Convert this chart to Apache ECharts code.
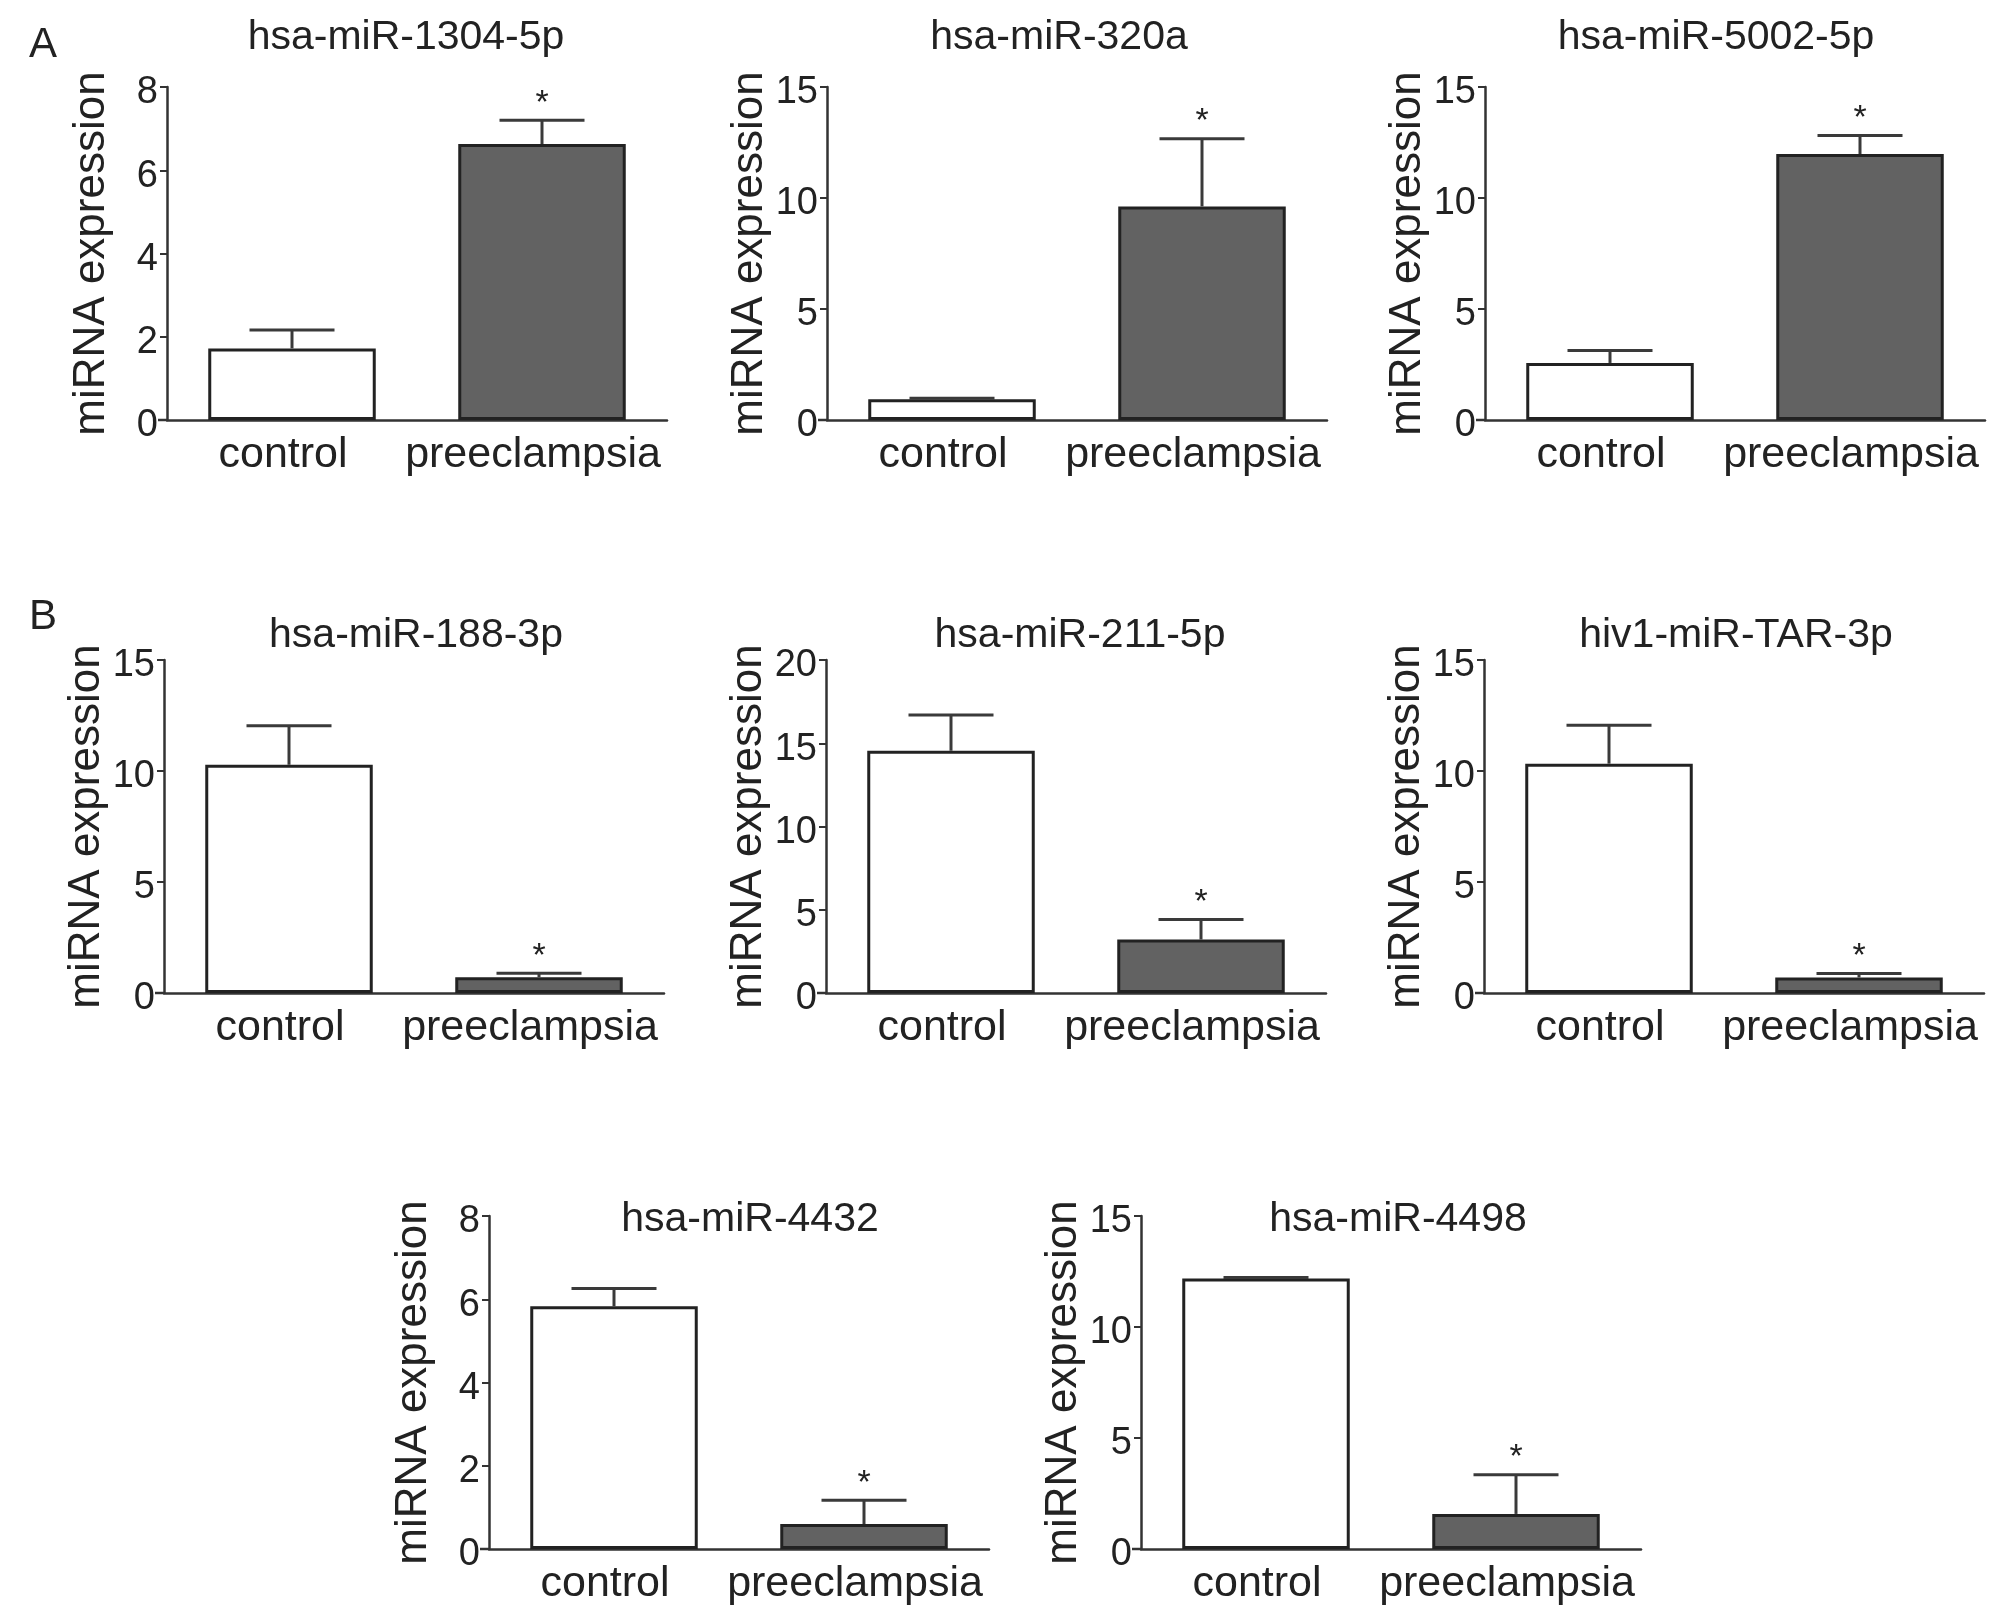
<!DOCTYPE html>
<html>
<head>
<meta charset="utf-8">
<title>miRNA expression: control vs preeclampsia</title>
<script src="https://cdn.jsdelivr.net/npm/echarts@6/dist/echarts.min.js"></script>
<style>
  html, body { margin: 0; padding: 0; background: #fff; }
  #chart { width: 2008px; height: 1621px; }
</style>
</head>
<body>
<div id="chart"></div>
<script>
// 8 small bar panels (mean + upper SEM whisker), control vs preeclampsia

const groups = ["control", "preeclampsia"];
const panelTitles = [
  "hsa-miR-1304-5p", "hsa-miR-320a", "hsa-miR-5002-5p",
  "hsa-miR-188-3p", "hsa-miR-211-5p", "hiv1-miR-TAR-3p",
  "hsa-miR-4432", "hsa-miR-4498"
];
const yMax = [8, 15, 15, 15, 20, 15, 8, 15];
const yStep = [2, 5, 5, 5, 5, 5, 2, 5];

const controlMean = [1.72, 0.93, 2.57, 10.28, 14.55, 10.33, 5.83, 12.18];
const controlErr = [0.44, 0.05, 0.56, 1.76, 2.15, 1.73, 0.43, 0.05];
const preeclampsiaMean = [6.63, 9.62, 11.98, 0.71, 3.21, 0.70, 0.60, 1.58];
const preeclampsiaErr = [0.57, 3.05, 0.83, 0.18, 1.20, 0.18, 0.57, 1.77];
// significance star above each group (control, preeclampsia)
const starred = [false, true];

const panelLetters = ["A", "B"];

// ─── layout (pixels) ──────────────────────────────────────────
const axisX = [167, 827, 1485, 164, 826, 1484, 489, 1141];
const axisTop = [87, 87, 87, 660, 660, 660, 1216, 1216];
const plotH = 333;
const plotW = 500;
const lead = 9; // x axis line starts a little left of the y axis
const titleX = [406, 1059, 1716, 416, 1080, 1736, 750, 1398];
const titleY = [38, 38, 38, 636, 636, 636, 1220, 1220];
const letterPos = [[43, 45], [43, 617]];

const FONT = "'Liberation Sans', Arial, Helvetica, sans-serif";
const INK = "#222";
const LINE = "#333";
const DARK = "#626262";

function renderErr(params, api) {
  const x = api.value(0);
  const m = api.value(1);
  const e = api.value(2);
  const star = api.value(3);
  const base = api.coord([x, m]);
  const top = api.coord([x, m + e]);
  const half = api.size([1, 0])[0] * 0.17;
  const st = { stroke: "#3a3a3a", lineWidth: 3 };
  const children = [
    { type: "line", shape: { x1: base[0], y1: base[1], x2: top[0], y2: top[1] }, style: st },
    { type: "line", shape: { x1: top[0] - half, y1: top[1], x2: top[0] + half, y2: top[1] }, style: st }
  ];
  if (star) {
    children.push({
      type: "text",
      x: top[0],
      y: top[1] - 17,
      style: { text: "*", fontSize: 34, fontFamily: FONT, fill: INK, align: "center", verticalAlign: "middle" }
    });
  }
  return { type: "group", children };
}

const titles = [];
const grids = [];
const xAxes = [];
const yAxes = [];
const series = [];
const graphics = [];

panelLetters.forEach((t, i) => {
  titles.push({
    text: t, left: letterPos[i][0], top: letterPos[i][1] - 24, textAlign: "center", padding: 0,
    textStyle: { fontSize: 42, fontWeight: "normal", color: INK, fontFamily: FONT, lineHeight: 48 }
  });
});

panelTitles.forEach((name, i) => {
  titles.push({
    text: name, left: titleX[i], top: titleY[i] - 23, textAlign: "center", padding: 0,
    textStyle: { fontSize: 41, fontWeight: "normal", color: INK, fontFamily: FONT, lineHeight: 46 }
  });

  grids.push({ left: axisX[i], top: axisTop[i], width: plotW, height: plotH });

  // short stub of the baseline to the left of the y axis
  graphics.push({
    type: "line", silent: true,
    shape: { x1: axisX[i] - lead, y1: axisTop[i] + plotH, x2: axisX[i], y2: axisTop[i] + plotH },
    style: { stroke: LINE, lineWidth: 2.5 }
  });

  xAxes.push({
    type: "category", gridIndex: i, data: groups,
    axisLine: { lineStyle: { color: LINE, width: 2.5 } },
    axisTick: { alignWithLabel: true, length: 10, lineStyle: { color: LINE, width: 2.5 } },
    axisLabel: {
      fontSize: 43, color: INK, fontFamily: FONT, margin: 14, interval: 0, hideOverlap: false,
      padding: [0, 18, 0, 0]
    },
    splitLine: { show: false }
  });

  yAxes.push({
    type: "value", gridIndex: i, min: 0, max: yMax[i], interval: yStep[i],
    name: "miRNA expression", nameLocation: "middle", nameGap: 53, nameRotate: 90,
    nameTextStyle: { fontSize: 44, color: INK, fontFamily: FONT },
    axisLine: { show: true, lineStyle: { color: LINE, width: 2.5 } },
    axisTick: { show: true, length: 7, lineStyle: { color: LINE, width: 2 } },
    axisLabel: { fontSize: 38, color: INK, fontFamily: FONT, margin: 9, verticalAlign: "top", lineHeight: 12 },
    splitLine: { show: false }
  });

  series.push({
    type: "bar", xAxisIndex: i, yAxisIndex: i, barWidth: "67%",
    data: [
      { value: controlMean[i], itemStyle: { color: "#fff" } },
      { value: preeclampsiaMean[i], itemStyle: { color: DARK } }
    ],
    itemStyle: { borderColor: INK, borderWidth: 3 },
    silent: true,
    z: 2
  });

  series.push({
    type: "custom", xAxisIndex: i, yAxisIndex: i, renderItem: renderErr,
    data: [
      [0, controlMean[i], controlErr[i], starred[0] ? 1 : 0],
      [1, preeclampsiaMean[i], preeclampsiaErr[i], starred[1] ? 1 : 0]
    ],
    silent: true,
    z: 3
  });
});

const chart = echarts.init(document.getElementById("chart"), null, { renderer: "canvas" });
chart.setOption({
  backgroundColor: "#fff",
  animation: false,
  title: titles,
  grid: grids,
  xAxis: xAxes,
  yAxis: yAxes,
  series,
  graphic: graphics
});
</script>
</body>
</html>
